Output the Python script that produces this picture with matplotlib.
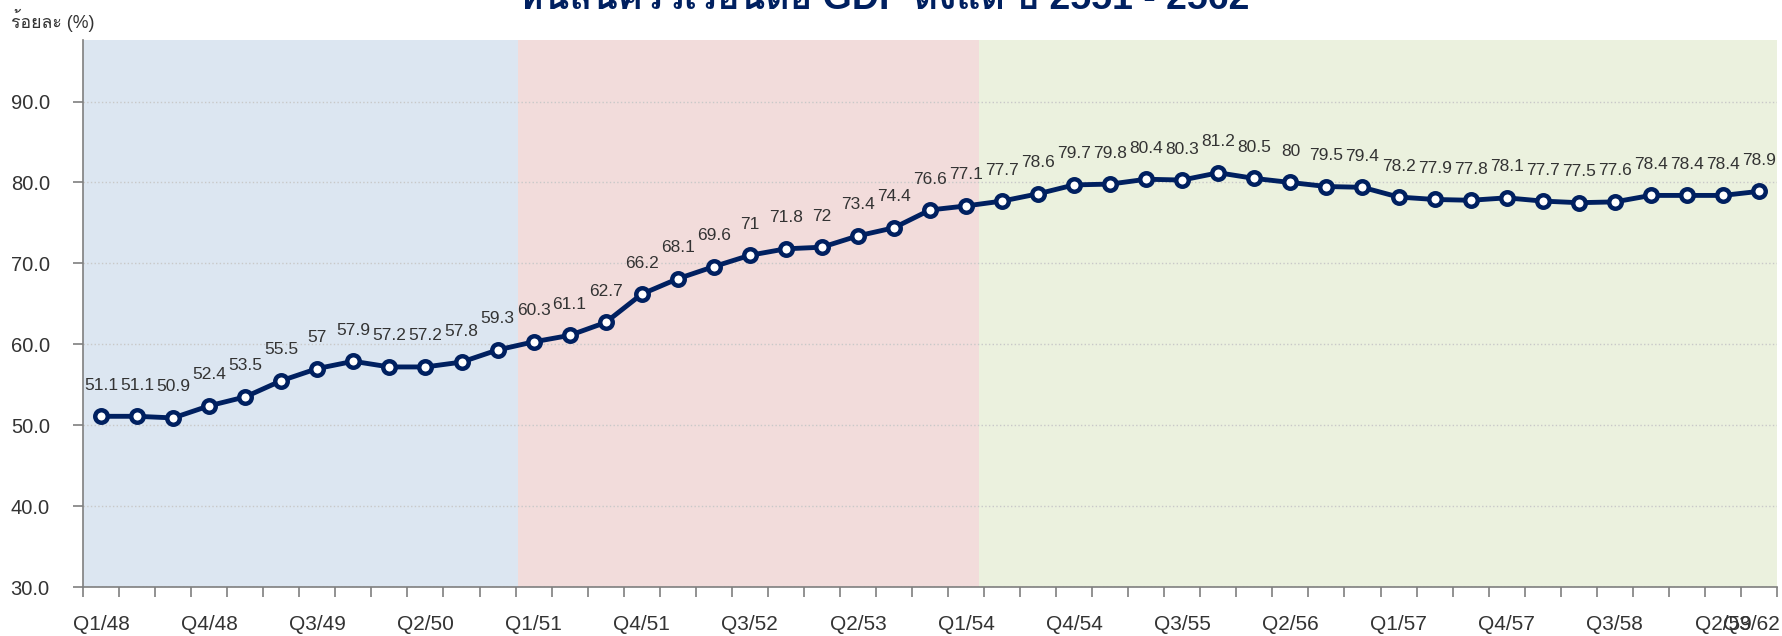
import matplotlib
matplotlib.use("Agg")
import matplotlib.pyplot as plt
from matplotlib import font_manager, ft2font
from matplotlib.transforms import ScaledTranslation
import numpy as np

# ข้อมูล: หนี้ครัวเรือนต่อ GDP (ร้อยละ) รายไตรมาส
values = [51.1, 51.1, 50.9, 52.4, 53.5, 55.5, 57, 57.9, 57.2, 57.2, 57.8, 59.3,
          60.3, 61.1, 62.7, 66.2, 68.1, 69.6, 71, 71.8, 72, 73.4, 74.4, 76.6,
          77.1, 77.7, 78.6, 79.7, 79.8, 80.4, 80.3, 81.2, 80.5, 80, 79.5, 79.4,
          78.2, 77.9, 77.8, 78.1, 77.7, 77.5, 77.6, 78.4, 78.4, 78.4, 78.9]
quarters = [f"Q{q}/{y}" for y in range(48, 60) for q in range(1, 5)][:46] + ["Q3/62"]
shown_ticks = list(range(0, 46, 3)) + [46]
y_ticks = [30, 40, 50, 60, 70, 80, 90]
title = "หนี้สินครัวเรือนต่อ GDP ตั้งแต่ ปี 2551 - 2562"
y_label = "ร้อยละ (%)"


def find_thai_font():
    # หา font ที่มีอักษรไทย
    for f in font_manager.fontManager.ttflist:
        try:
            cmap = ft2font.FT2Font(f.fname).get_charmap()
        except Exception:
            continue
        if ord("ร") in cmap:
            return f.name
    return "DejaVu Sans"


thai_font = find_thai_font()
fonts = ["Liberation Sans", thai_font, "DejaVu Sans"]
plt.rcParams["font.family"] = fonts

navy = "#002060"
txt = "#333333"
x = np.arange(len(values))

fig = plt.figure(figsize=(17.83, 6.36), dpi=100)
ax = fig.add_axes([0.0466, 0.077, 0.950, 0.86])

# พื้นหลัง 3 ช่วง
ax.axvspan(-0.5, 11.56, color="#DCE6F1", lw=0, zorder=0)
ax.axvspan(11.56, 24.35, color="#F2DCDB", lw=0, zorder=0)
ax.axvspan(24.35, 46.6, color="#EBF1DE", lw=0, zorder=0)

ax.plot(x, values, color=navy, lw=3.5, marker="o", ms=9, mew=3.2,
        mfc="white", mec=navy, zorder=3, clip_on=False)

for xi, v in zip(x, values):
    ax.annotate(f"{v:g}", (xi, v), xytext=(0, 22.3), textcoords="offset points",
                ha="center", va="center", fontsize=12.5, color=txt, zorder=4)

ax.set_xlim(-0.5, 46.5)
ax.set_ylim(30, 97.6)
ax.set_yticks(y_ticks)
ax.set_yticklabels([f"{t:.1f}" for t in y_ticks], fontsize=14.5, color=txt)
ax.tick_params(axis="y", length=7, width=1.2, color="#7f7f7f", pad=17)

ax.set_xticks(np.arange(-0.5, 47, 1))
ax.set_xticklabels([])
ax.tick_params(axis="x", which="major", length=7, width=1.2, color="#7f7f7f")
ax.set_xticks(shown_ticks, minor=True)
labels = ax.set_xticklabels([quarters[i] for i in shown_ticks], minor=True,
                            fontsize=15, color=txt)
ax.tick_params(axis="x", which="minor", length=0, pad=20)
# ขยับป้ายสุดท้ายเข้ามาให้อยู่ในภาพ
labels[-1].set_transform(labels[-1].get_transform()
                         + ScaledTranslation(-0.08, 0, fig.dpi_scale_trans))

ax.grid(axis="y", ls=":", color="#c8c8c8", lw=1)
ax.set_axisbelow(True)
for s in ["top", "right"]:
    ax.spines[s].set_visible(False)
for s in ["left", "bottom"]:
    ax.spines[s].set_color("#7f7f7f")
    ax.spines[s].set_linewidth(1.2)

fig.text(0.006, 0.968, y_label, fontsize=12.8, color=txt, va="center", ha="left")
fig.text(0.496, 0.986, title, fontsize=27, fontweight="bold", color=navy,
         ha="center", va="baseline")

fig.savefig("out.png", dpi=100)
